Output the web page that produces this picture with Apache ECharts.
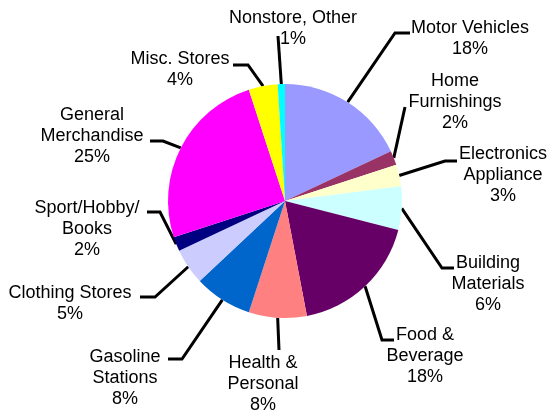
<!DOCTYPE html>
<html>
<head>
<meta charset="utf-8">
<script src="https://cdn.jsdelivr.net/npm/echarts@6/dist/echarts.min.js"></script>
<style>
html,body{margin:0;padding:0;background:#fff;}
#chart{width:548px;height:413px;}
</style>
</head>
<body>
<div id="chart"></div>
<script>
// ---- data ----
var categories = [
  'Motor Vehicles', 'Home\nFurnishings', 'Electronics\nAppliance', 'Building\nMaterials',
  'Food &\nBeverage', 'Health &\nPersonal', 'Gasoline\nStations', 'Clothing Stores',
  'Sport/Hobby/\nBooks', 'General\nMerchandise', 'Misc. Stores', 'Nonstore, Other'
];
var values = [18, 2, 3, 6, 18, 8, 8, 5, 2, 25, 4, 1];

// ---- styles / layout ----
var colors = ['#9999FF', '#993366', '#FFFFCC', '#CCFFFF', '#660066', '#FF8080',
              '#0066CC', '#CCCCFF', '#000080', '#FF00FF', '#FFFF00', '#00FFFF'];
// label block: [centerX, topY]
var labelPos = [[470,18],[455,71],[503,144],[488,253],[425,325],[263,353],
                [125,347],[70,283],[87,198],[92,105],[180,49],[293,8]];
// leader line: [bend, end]
var leader = [
  [[395,33],[410,33]], [[405,107],[405,107]], [[445,161],[457,161]], [[442,268],[454,268]],
  [[382,340],[394,340]], [[279,350],[279,350]], [[182,359],[168,359]], [[155,297],[140,297]],
  [[160,212],[147,212]], [[163,141],[150,141]], [[248,65],[233,65]], [[278,36],[278,36]]
];

var chart = echarts.init(document.getElementById('chart'), null, {renderer: 'canvas'});
var data = categories.map(function (c, i) {
  return { name: c, value: values[i], itemStyle: { color: colors[i] } };
});
chart.setOption({
  animation: false,
  backgroundColor: '#ffffff',
  series: [{
    type: 'pie',
    center: [285, 201],
    radius: 117,
    startAngle: 90,
    clockwise: true,
    avoidLabelOverlap: false,
    itemStyle: { borderWidth: 0 },
    emphasis: { disabled: true },
    label: {
      show: true,
      position: 'outer',
      alignTo: 'none',
      formatter: function (p) { return p.name + '\n' + p.value + '%'; },
      fontFamily: 'Liberation Sans, Arial, sans-serif',
      fontSize: 18,
      lineHeight: 21,
      color: '#000'
    },
    labelLine: {
      show: true, length: 2, length2: 2,
      lineStyle: { color: '#000', width: 3 }
    },
    labelLayout: function (params) {
      var i = params.dataIndex;
      var start = params.labelLinePoints ? params.labelLinePoints[0].slice() : leader[i][0].slice();
      return {
        x: labelPos[i][0],
        y: labelPos[i][1],
        align: 'center',
        verticalAlign: 'top',
        labelLinePoints: [start, leader[i][0].slice(), leader[i][1].slice()]
      };
    },
    data: data
  }]
});
</script>
</body>
</html>
